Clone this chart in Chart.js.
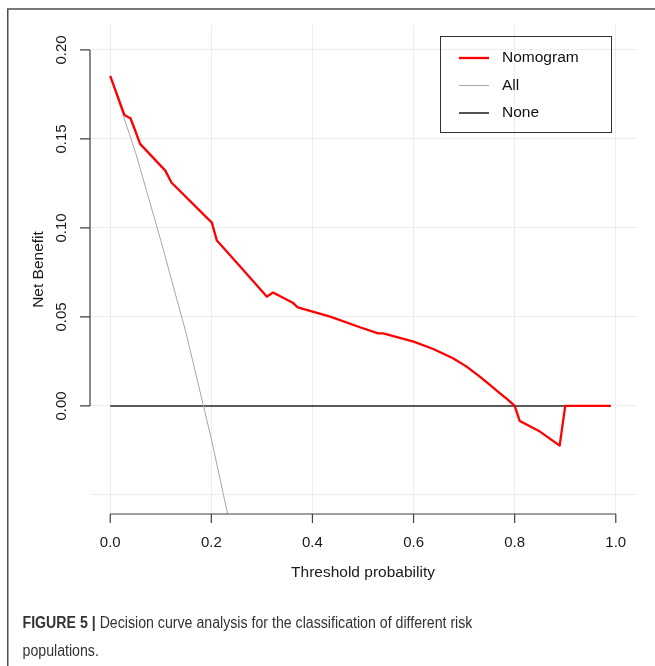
<!DOCTYPE html>
<html>
<head>
<meta charset="utf-8">
<title>Decision curve analysis</title>
<script src="https://cdn.jsdelivr.net/npm/chart.js@4.4.0/dist/chart.umd.min.js"></script>
<style>
  html, body { margin: 0; padding: 0; background: #fff; }
  #wrap { width: 655px; height: 666px; }
</style>
</head>
<body>
<div id="wrap"><canvas id="dca" width="655" height="666"></canvas></div>
<script>
// Threshold probability (x) and net benefit (y)
const nomogramX = [0, 0.028, 0.040, 0.049, 0.059, 0.109, 0.121, 0.201, 0.211, 0.257, 0.310, 0.322,
                   0.361, 0.371, 0.435, 0.494, 0.530, 0.540, 0.600, 0.639, 0.678, 0.705, 0.731,
                   0.751, 0.771, 0.787, 0.800, 0.810, 0.850, 0.889, 0.900, 0.990];
const nomogramY = [0.1854, 0.1635, 0.1616, 0.1550, 0.1472, 0.1322, 0.1255, 0.1030, 0.0929, 0.0783,
                   0.0614, 0.0637, 0.0580, 0.0554, 0.0502, 0.0442, 0.0408, 0.0408, 0.0361, 0.0320,
                   0.0268, 0.0221, 0.0165, 0.0118, 0.0071, 0.0034, 0.0000, -0.0084, -0.0144,
                   -0.0223, 0.0000, 0.0000];
const allX = [0, 0.05, 0.10, 0.15, 0.20, 0.25];
const allY = [0.185, 0.1425, 0.093, 0.041, -0.0185, -0.084];
const noneX = [0, 0.99];
const noneY = [0, 0];

const seriesNames = ['Nomogram', 'All', 'None'];
const seriesColors = ['#ff0000', '#a6a6a6', '#262626'];
const seriesWidths = [2.3, 1, 1.6];

// Axis ticks
const xTicks = [0, 0.2, 0.4, 0.6, 0.8, 1.0];
const xTickLabels = ['0.0', '0.2', '0.4', '0.6', '0.8', '1.0'];
const yTicks = [0, 0.05, 0.10, 0.15, 0.20];
const yTickLabels = ['0.00', '0.05', '0.10', '0.15', '0.20'];
const yGridValues = [-0.05, 0, 0.05, 0.10, 0.15, 0.20];

const xTitle = 'Threshold probability';
const yTitle = 'Net Benefit';
const captionBold = 'FIGURE 5 |';
const captionLine1 = ' Decision curve analysis for the classification of different risk';
const captionLine2 = 'populations.';

function toPoints(xs, ys) {
    return xs.map((x, i) => ({ x: x, y: ys[i] }));
}

const FONT = '"Liberation Sans", Arial, Helvetica, sans-serif';

// R-style base graphics: axes, labels, legend, figure frame and caption
const baseGraphics = {
    id: 'baseGraphics',
    afterDraw(chart) {
        const ctx = chart.ctx;
        const xs = chart.scales.x;
        const ys = chart.scales.y;
        const area = chart.chartArea;
        ctx.save();

        // figure frame (left and top rule)
        ctx.strokeStyle = '#4d4d4d';
        ctx.lineWidth = 1.5;
        ctx.beginPath();
        ctx.moveTo(7.75, 666);
        ctx.lineTo(7.75, 9);
        ctx.lineTo(655, 9);
        ctx.stroke();

        // axes
        ctx.strokeStyle = '#404040';
        ctx.lineWidth = 1.2;
        ctx.beginPath();
        const ax = area.left;
        ctx.moveTo(ax, ys.getPixelForValue(yTicks[0]));
        ctx.lineTo(ax, ys.getPixelForValue(yTicks[yTicks.length - 1]));
        yTicks.forEach(v => {
            const p = ys.getPixelForValue(v);
            ctx.moveTo(ax - 10, p);
            ctx.lineTo(ax, p);
        });
        const ay = area.bottom;
        ctx.moveTo(xs.getPixelForValue(xTicks[0]), ay);
        ctx.lineTo(xs.getPixelForValue(xTicks[xTicks.length - 1]), ay);
        xTicks.forEach(v => {
            const p = xs.getPixelForValue(v);
            ctx.moveTo(p, ay);
            ctx.lineTo(p, ay + 9);
        });
        ctx.stroke();

        // tick labels
        ctx.fillStyle = '#1a1a1a';
        ctx.font = '15px ' + FONT;
        ctx.textAlign = 'center';
        ctx.textBaseline = 'middle';
        xTicks.forEach((v, i) => {
            ctx.fillText(xTickLabels[i], xs.getPixelForValue(v), ay + 29);
        });
        yTicks.forEach((v, i) => {
            ctx.save();
            ctx.translate(ax - 28.5, ys.getPixelForValue(v));
            ctx.rotate(-Math.PI / 2);
            ctx.fillText(yTickLabels[i], 0, 0);
            ctx.restore();
        });

        // axis titles
        ctx.font = '15.5px ' + FONT;
        ctx.fillText(xTitle, (area.left + area.right) / 2, ay + 59);
        ctx.save();
        ctx.translate(39, (area.top + area.bottom) / 2);
        ctx.rotate(-Math.PI / 2);
        ctx.fillText(yTitle, 0, 0);
        ctx.restore();

        // legend
        ctx.strokeStyle = '#333';
        ctx.lineWidth = 1;
        ctx.strokeRect(440.5, 36.5, 171, 96);
        const rows = [58, 85.5, 113];
        ctx.textAlign = 'left';
        seriesNames.forEach((name, i) => {
            ctx.strokeStyle = seriesColors[i];
            ctx.lineWidth = seriesWidths[i];
            ctx.beginPath();
            ctx.moveTo(459, rows[i]);
            ctx.lineTo(489, rows[i]);
            ctx.stroke();
            ctx.fillStyle = '#111';
            ctx.fillText(name, 502, rows[i]);
        });

        // caption, set in a condensed width like the journal's narrow face
        ctx.save();
        ctx.translate(22.5, 0);
        ctx.scale(0.885, 1);
        ctx.fillStyle = '#333';
        ctx.textBaseline = 'alphabetic';
        ctx.font = 'bold 16px ' + FONT;
        ctx.fillText(captionBold, 0, 627.5);
        const w = ctx.measureText(captionBold).width;
        ctx.font = '16px ' + FONT;
        ctx.fillText(captionLine1, w, 627.5);
        ctx.fillText(captionLine2, 0, 655.5);
        ctx.restore();

        ctx.restore();
    }
};

new Chart(document.getElementById('dca'), {
    type: 'line',
    data: {
        datasets: [
            { label: seriesNames[0], data: toPoints(nomogramX, nomogramY) },
            { label: seriesNames[1], data: toPoints(allX, allY) },
            { label: seriesNames[2], data: toPoints(noneX, noneY) }
        ].map((ds, i) => Object.assign(ds, {
            borderColor: seriesColors[i],
            borderWidth: seriesWidths[i],
            pointRadius: 0,
            tension: 0,
            fill: false,
            borderJoinStyle: 'round'
        }))
    },
    options: {
        responsive: false,
        animation: false,
        devicePixelRatio: 1,
        layout: { padding: { left: 90, right: 19, top: 25, bottom: 152 } },
        plugins: { legend: { display: false }, tooltip: { enabled: false } },
        scales: {
            x: {
                type: 'linear',
                min: -0.04,
                max: 1.04,
                afterBuildTicks: scale => { scale.ticks = xTicks.map(v => ({ value: v })); },
                afterFit: scale => { scale.height = 0; },
                ticks: { display: false },
                border: { display: false },
                grid: { color: '#ececec', lineWidth: 1, drawTicks: false }
            },
            y: {
                type: 'linear',
                min: -0.0607,
                max: 0.214,
                afterBuildTicks: scale => { scale.ticks = yGridValues.map(v => ({ value: v })); },
                afterFit: scale => { scale.width = 0; },
                ticks: { display: false },
                border: { display: false },
                grid: { color: '#ececec', lineWidth: 1, drawTicks: false }
            }
        }
    },
    plugins: [baseGraphics]
});
</script>
</body>
</html>
